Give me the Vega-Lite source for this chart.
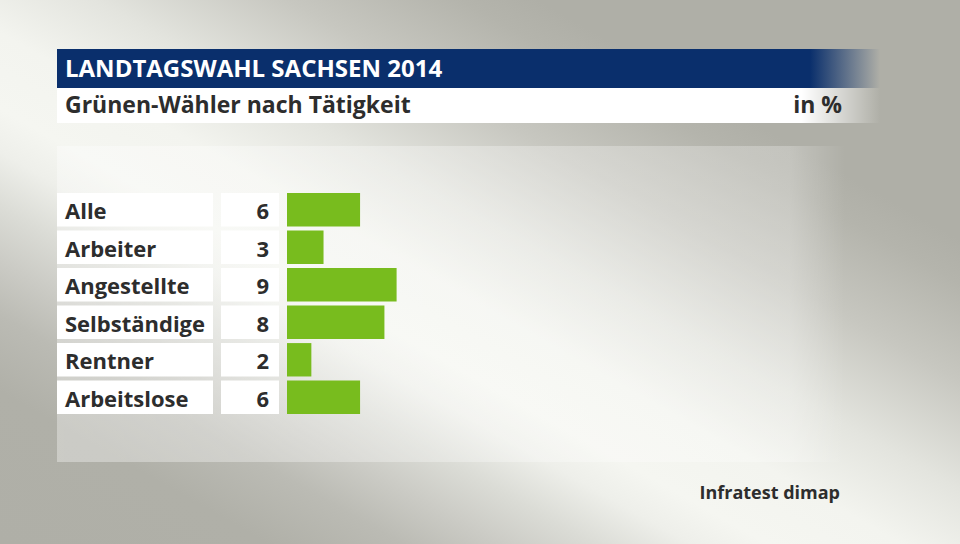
{
  "$schema": "https://vega.github.io/schema/vega-lite/v6.json",
  "background": "#d4d4ce",
  "padding": 0,
  "autosize": {"type": "pad"},
  "config": {
    "view": {"stroke": null},
    "font": "Open Sans",
    "text": {"font": "Open Sans"}
  },
  "columns": 1,
  "align": "none",
  "spacing": -495,
  "concat": [
    {
      "width": 960,
      "height": 544,
      "data": {"values": [{"bg": 1}]},
      "mark": {
        "type": "rect",
        "fill": {
          "gradient": "linear",
          "x1": 1, "y1": 0, "x2": 0, "y2": 1,
          "stops": [
            {"offset": 0, "color": "#afafa7"},
            {"offset": 0.22, "color": "#afafa7"},
            {"offset": 0.26, "color": "#b4b4ac"},
            {"offset": 0.35, "color": "#c7c7c0"},
            {"offset": 0.45, "color": "#e3e4de"},
            {"offset": 0.53, "color": "#f3f4ef"},
            {"offset": 0.6, "color": "#f5f6f1"},
            {"offset": 0.64, "color": "#eeefea"},
            {"offset": 0.69, "color": "#dbdcd6"},
            {"offset": 0.74, "color": "#cbcbc5"},
            {"offset": 0.79, "color": "#bbbbb4"},
            {"offset": 0.86, "color": "#b0b0a8"},
            {"offset": 1, "color": "#afafa7"}
          ]
        }
      },
      "encoding": {}
    },
    {
      "spacing": 56,
      "hconcat": [
        {
          "width": 1,
          "height": 1,
          "data": {"values": []},
          "mark": "rect",
          "encoding": {}
        },
        {
          "spacing": 23,
          "vconcat": [
            {
              "spacing": 0,
              "vconcat": [
                {
                  "width": 823,
                  "height": 39,
                  "data": {"values": [{"t": "LANDTAGSWAHL SACHSEN 2014"}]},
                  "layer": [
                    {
                      "mark": {
                        "type": "rect",
                        "fill": {
                          "gradient": "linear",
                          "x1": 0, "y1": 0, "x2": 1, "y2": 0,
                          "stops": [
                            {"offset": 0, "color": "#0a2f6c"},
                            {"offset": 0.915, "color": "#0a2f6c"},
                            {"offset": 1, "color": "rgba(10,47,108,0)"}
                          ]
                        }
                      },
                      "encoding": {}
                    },
                    {
                      "mark": {"type": "text", "align": "left", "baseline": "alphabetic", "dx": 8, "dy": 8.5, "color": "#ffffff", "fontSize": 24, "fontWeight": "bold"},
                      "encoding": {"text": {"field": "t"}, "x": {"value": 0}}
                    }
                  ]
                },
                {
                  "width": 823,
                  "height": 35,
                  "data": {"values": [{"t": "Grünen-Wähler nach Tätigkeit", "u": "in %"}]},
                  "layer": [
                    {
                      "mark": {
                        "type": "rect",
                        "fill": {
                          "gradient": "linear",
                          "x1": 0, "y1": 0, "x2": 1, "y2": 0,
                          "stops": [
                            {"offset": 0, "color": "#ffffff"},
                            {"offset": 0.905, "color": "#ffffff"},
                            {"offset": 1, "color": "rgba(255,255,255,0)"}
                          ]
                        }
                      },
                      "encoding": {}
                    },
                    {
                      "mark": {"type": "text", "align": "left", "baseline": "alphabetic", "dx": 8, "dy": 7, "color": "#2d2d2d", "fontSize": 23, "fontWeight": "bold"},
                      "encoding": {"text": {"field": "t"}, "x": {"value": 0}}
                    },
                    {
                      "mark": {"type": "text", "align": "right", "baseline": "alphabetic", "dx": -38, "dy": 7, "color": "#2d2d2d", "fontSize": 23, "fontWeight": "bold"},
                      "encoding": {"text": {"field": "u"}, "x": {"value": "width"}}
                    }
                  ]
                }
              ]
            },
            {
              "columns": 1,
              "align": "none",
              "spacing": -269,
              "concat": [
                {
                  "width": 788,
                  "height": 316,
                  "data": {"values": [{"panel": 1}]},
                  "mark": {
                    "type": "rect",
                    "fill": {
                      "gradient": "linear",
                      "x1": 0, "y1": 0, "x2": 1, "y2": 0,
                      "stops": [
                        {"offset": 0, "color": "rgba(255,255,255,0.35)"},
                        {"offset": 0.93, "color": "rgba(255,255,255,0.25)"},
                        {"offset": 1, "color": "rgba(255,255,255,0)"}
                      ]
                    }
                  },
                  "encoding": {}
                },
                {
                  "spacing": 8,
                  "data": {
                    "values": [
                      {"Tätigkeit": "Alle", "Anteil": 6},
                      {"Tätigkeit": "Arbeiter", "Anteil": 3},
                      {"Tätigkeit": "Angestellte", "Anteil": 9},
                      {"Tätigkeit": "Selbständige", "Anteil": 8},
                      {"Tätigkeit": "Rentner", "Anteil": 2},
                      {"Tätigkeit": "Arbeitslose", "Anteil": 6}
                    ]
                  },
                  "hconcat": [
                    {
                      "width": 156,
                      "height": 221,
                      "encoding": {
                        "y": {"field": "Tätigkeit", "type": "nominal", "sort": null, "axis": null, "scale": {"paddingInner": 0.11, "paddingOuter": 0}}
                      },
                      "layer": [
                        {"mark": {"type": "rect", "color": "#ffffff"}},
                        {
                          "mark": {"type": "text", "align": "left", "baseline": "alphabetic", "dx": 8, "dy": 9.5, "color": "#2d2d2d", "fontSize": 22, "fontWeight": "bold"},
                          "encoding": {"text": {"field": "Tätigkeit"}, "x": {"value": 0}}
                        }
                      ]
                    },
                    {
                      "width": 58,
                      "height": 221,
                      "encoding": {
                        "y": {"field": "Tätigkeit", "type": "nominal", "sort": null, "axis": null, "scale": {"paddingInner": 0.11, "paddingOuter": 0}}
                      },
                      "layer": [
                        {"mark": {"type": "rect", "color": "#ffffff"}},
                        {
                          "mark": {"type": "text", "align": "right", "baseline": "alphabetic", "dx": -10, "dy": 9.5, "color": "#2d2d2d", "fontSize": 22, "fontWeight": "bold"},
                          "encoding": {"text": {"field": "Anteil"}, "x": {"value": "width"}}
                        }
                      ]
                    },
                    {
                      "width": 548,
                      "height": 221,
                      "mark": {"type": "bar", "color": "#78bc1e"},
                      "encoding": {
                        "y": {"field": "Tätigkeit", "type": "nominal", "sort": null, "axis": null, "scale": {"paddingInner": 0.11, "paddingOuter": 0}},
                        "x": {"field": "Anteil", "type": "quantitative", "axis": null, "scale": {"domain": [0, 45]}}
                      }
                    }
                  ]
                }
              ]
            },
            {
              "width": 783,
              "height": 8,
              "data": {"values": [{"q": "Infratest dimap"}]},
              "mark": {"type": "text", "align": "right", "baseline": "alphabetic", "color": "#2d2d2d", "fontSize": 18, "fontWeight": "bold"},
              "encoding": {"text": {"field": "q"}, "x": {"value": "width"}, "y": {"value": "height"}}
            }
          ]
        }
      ]
    }
  ]
}
